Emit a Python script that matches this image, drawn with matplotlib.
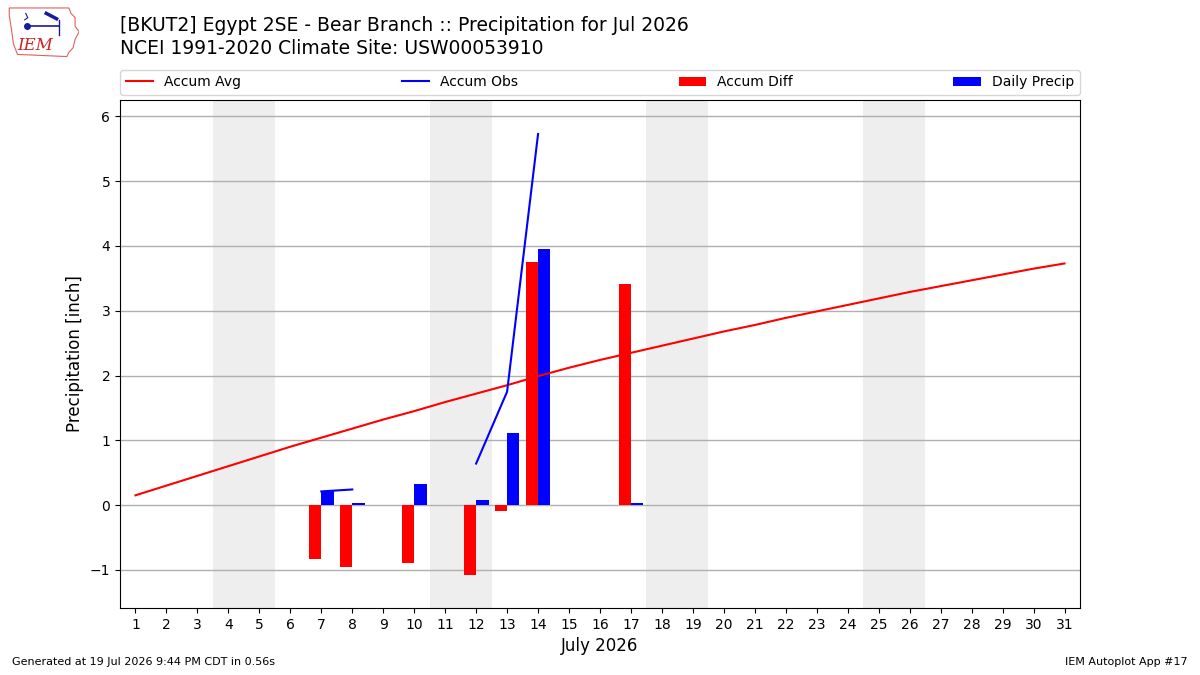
import numpy as np
import matplotlib
matplotlib.use("Agg")
import matplotlib.pyplot as plt
from matplotlib.patches import Polygon

days = list(range(1, 32))
accum_avg = [0.15, 0.30, 0.45, 0.60, 0.75, 0.90, 1.04, 1.18, 1.32, 1.45,
             1.59, 1.72, 1.85, 1.99, 2.12, 2.24, 2.35, 2.46, 2.57, 2.68,
             2.78, 2.89, 2.99, 3.09, 3.19, 3.29, 3.38, 3.47, 3.56, 3.65, 3.73]
nan = np.nan
accum_obs = [nan] * 6 + [0.21, 0.24] + [nan] * 3 + [0.64, 1.75, 5.73] + [nan] * 17
precip_days = [7, 8, 10, 12, 13, 14, 17]
daily_precip = [0.21, 0.03, 0.32, 0.08, 1.11, 3.96, 0.03]
accum_diff = [-0.84, -0.95, -0.89, -1.08, -0.10, 3.75, 3.41]
weekend_spans = [(3.5, 5.5), (10.5, 12.5), (17.5, 19.5), (24.5, 26.5)]

fig = plt.figure(figsize=(12, 6.75), dpi=100)
ax = fig.add_axes([0.1, 0.0993, 0.8, 0.7526])

for a, b in weekend_spans:
    ax.axvspan(a, b, color="#eeeeee", zorder=0, lw=0)
ax.grid(axis="y", color="#b0b0b0", lw=1.0, zorder=1)
ax.set_axisbelow(True)

ax.plot(days, accum_avg, color="red", lw=1.5, label="Accum Avg", zorder=3)
ax.plot(days, accum_obs, color="blue", lw=1.5, label="Accum Obs", zorder=3)
pd_arr = np.array(precip_days, dtype=float)
ax.bar(pd_arr - 0.2, accum_diff, width=0.4, color="red", label="Accum Diff", zorder=2)
ax.bar(pd_arr + 0.2, daily_precip, width=0.4, color="blue", label="Daily Precip", zorder=2)

ax.set_xlim(0.5, 31.5)
ax.set_ylim(-1.59, 6.255)
ax.set_xticks(days)
ax.set_xticklabels([str(d) for d in days], fontsize=10)
ax.tick_params(axis="y", labelsize=10)
ax.set_xlabel("July 2026", fontsize=12)
ax.set_ylabel("Precipitation [inch]", fontsize=12)

ax.legend(loc="lower left", bbox_to_anchor=(0, 1.01, 1, 0.05), ncol=4,
          mode="expand", borderaxespad=0, fontsize=10)

fig.text(0.1, 0.962, "[BKUT2] Egypt 2SE - Bear Branch :: Precipitation for Jul 2026",
         fontsize=13.5, va="center", ha="left")
fig.text(0.1, 0.928, "NCEI 1991-2020 Climate Site: USW00053910",
         fontsize=13.5, va="center", ha="left")
fig.text(0.01, 0.015, "Generated at 19 Jul 2026 9:44 PM CDT in 0.56s", fontsize=8, ha="left")
fig.text(0.99, 0.015, "IEM Autoplot App #17", fontsize=8, ha="right")

# Logo approximation
lax = fig.add_axes([0.006, 0.913, 0.06, 0.08])
lax.set_xlim(0, 70)
lax.set_ylim(0, 50)
lax.axis("off")
outline = [(2, 47), (60, 47), (62, 42), (66, 38), (66, 30), (70, 25), (66, 18),
           (64, 10), (60, 6), (58, 2), (10, 4), (6, 14), (4, 28), (2, 40)]
lax.add_patch(Polygon(outline, closed=True, fill=False, ec="#e06060", lw=0.8))
lax.text(10, 8, "IEM", color="#cc2222", fontsize=12, family="DejaVu Serif",
         style="italic")
lax.plot([20, 50], [30, 30], color="#1a1aa0", lw=1.2)
lax.plot([19], [30], "o", color="#1a1aa0", ms=4)
lax.plot([50, 50], [36, 22], color="#1a1aa0", lw=1.0)
lax.plot([38, 48], [42, 37], color="#1a1aa0", lw=2.5)
lax.plot([18, 20, 17], [42, 38, 36], color="#1a1aa0", lw=0.8)

fig.savefig("out.png", dpi=100)
